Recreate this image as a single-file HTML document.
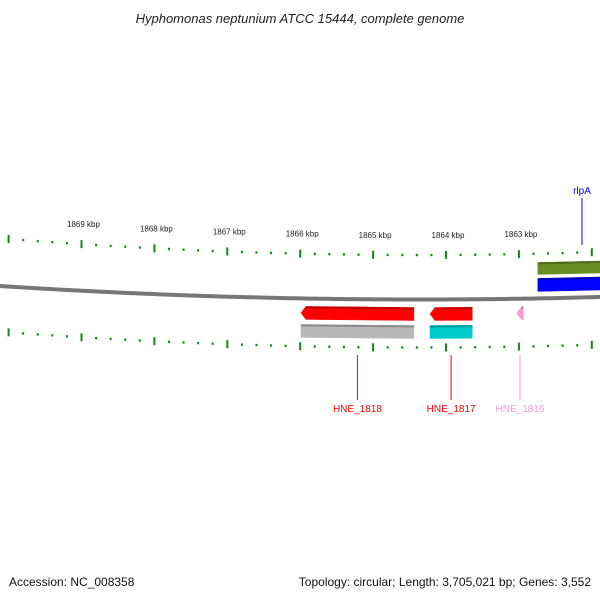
<!DOCTYPE html>
<html><head><meta charset="utf-8"><style>
body{margin:0;background:#fff}
svg{display:block;font-family:"Liberation Sans",sans-serif}
</style></head><body>
<svg id="c" width="600" height="600" viewBox="0 0 600 600">
<text x="300" y="23" text-anchor="middle" font-size="13" font-style="italic" fill="#222">Hyphomonas neptunium ATCC 15444, complete genome</text>
<text x="9" y="586" font-size="12" fill="#111">Accession: NC_008358</text>
<text x="591" y="586" font-size="12" fill="#111" text-anchor="end">Topology: circular; Length: 3,705,021 bp; Genes: 3,552</text>
<g id="g"></g>
</svg>
<script>
const tickKbp=[1869.8,1869,1868,1867,1866,1865,1864,1863,1862.2];
const labelKbp=[1869,1868,1867,1866,1865,1864,1863];
const geneNames=["rlpA","HNE_1818","HNE_1817","HNE_1816"];
const geneStart=[1861.5,1864.44,1863.64,1862.94];
const geneEnd=[1862.74,1865.99,1864.22,1863.03];
const geneStrand=[1,-1,-1,-1];
const geneColor=["#0000ff","#ff0000","#ff0000","#ff99cc"];
const cdsColor=["#6b8e23","#b8b8b8","#00cccc",null];

const NS="http://www.w3.org/2000/svg";
const G=document.getElementById('g');
function X(k){return 446-(k-1864)*72.9;}
function K(x){return 1864-(x-446)/72.9;}
function ringY(base,c,x){return base-c*(x-420)*(x-420);}
function mk(t,a){const e=document.createElementNS(NS,t);for(const k in a)e.setAttribute(k,a[k]);G.appendChild(e);return e;}

// backbone
let d="";for(let x=-5;x<=605;x+=5){d+=(x==-5?"M":"L")+x+","+ringY(299.5,7.65e-5,x).toFixed(2);}
let bb=mk("path",{d:d,stroke:"#777",'stroke-width':4,fill:"none"});



// ticks
function ticks(base,c,name){
  for(let k=1862;k<=1870.01;k+=0.2){
    const kk=Math.round(k*10)/10;const x=X(kk);if(x<-2||x>602)continue;
    const major=Math.abs(kk-Math.round(kk))<0.01;
    const y=ringY(base,c,x);
    const t=mk("line",{x1:x,x2:x,y1:y-(major?4:1.2),y2:y+(major?4:1.2),stroke:"#118811",'stroke-width':2});
    
    
  }
}
ticks(255,9.5e-5,'outer');
ticks(347.5,8.96e-5,'inner');
labelKbp.forEach(k=>{
  const x=X(k);const y=ringY(255,9.5e-5,x)-17;
  const t=mk("text",{x:x+2,y:y,'font-size':8,'text-anchor':'middle',fill:"#222"});
  t.textContent=k+" kbp";
  
  
});

// genes
function band(x1,x2,top,h,col,arrowLeft,name){
  x1=Math.max(x1,-5);x2=Math.min(x2,605);
  const c=7.65e-5;const base=299.5;
  const y1=ringY(base,c,x1)+top,y2=ringY(base,c,x2)+top;
  let p;
  if(arrowLeft){p=`${x1+5},${y1} ${x2},${y2} ${x2},${y2+h} ${x1+5},${y1+h} ${x1},${y1+h/2}`;}
  else p=`${x1},${y1} ${x2},${y2} ${x2},${y2+h} ${x1},${y1+h}`;
  const e=mk("polygon",{points:p,fill:col,stroke:col,'stroke-width':0.5});
  
  
  const s=mk("line",{x1:x1+(arrowLeft?5:0),y1:y1+1,x2:x2,y2:y2+1,stroke:"rgba(0,0,0,0.25)",'stroke-width':2});
  
  
}
geneNames.forEach((n,i)=>{
  const xa=X(geneEnd[i]),xb=X(geneStart[i]);
  const slug=n.toLowerCase().replace('_','-');
  if(geneStrand[i]>0){
    band(xa,xb,-36,12,cdsColor[i],false,slug+'-cds');
    band(xa,xb,-20,13,geneColor[i],false,slug+'-gene');
  }else{
    band(xa,xb,8,13,geneColor[i],true,slug+'-gene');
    if(cdsColor[i])band(xa,xb,26,13,cdsColor[i],false,slug+'-cds');
  }
  const xc=(xa+Math.min(xb,600))/2;
  const lx=geneStrand[i]>0?582:xc;
  let l,t;
  if(geneStrand[i]>0){
    l=mk("line",{x1:lx,x2:lx,y1:198,y2:245,stroke:geneColor[i],'stroke-width':1});
    t=mk("text",{x:lx,y:194,'font-size':10,'text-anchor':'middle',fill:geneColor[i]});
  }else{
    l=mk("line",{x1:lx,x2:lx,y1:355,y2:400,stroke:geneColor[i],'stroke-width':1});
    t=mk("text",{x:lx,y:412,'font-size':10,'text-anchor':'middle',fill:geneColor[i]});
  }
  
  
  t.textContent=n;
  
  
});
</script>
</body></html>
